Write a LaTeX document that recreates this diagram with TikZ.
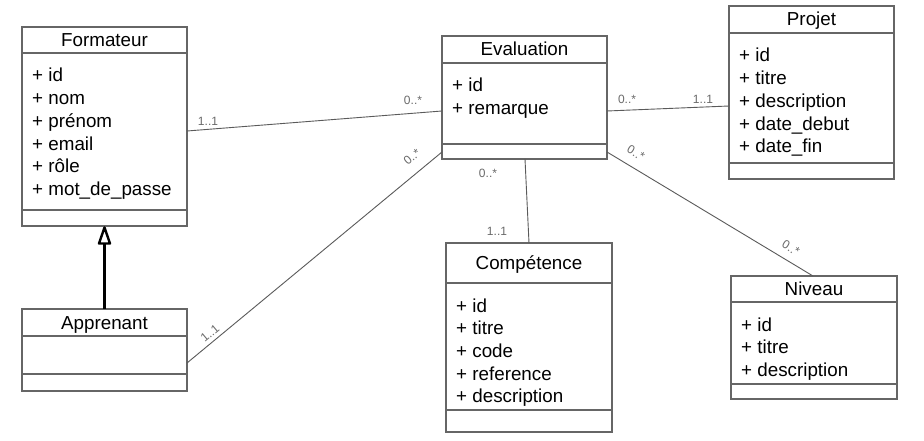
\documentclass[tikz,border=0pt]{standalone}
\usepackage{fontspec}
\setmainfont{Liberation Sans}
\usetikzlibrary{arrows.meta,calc}
\definecolor{boxgray}{HTML}{666666}
\definecolor{linegray}{HTML}{5A5A5A}
\definecolor{labgray}{HTML}{6A6A6A}
\newcommand\umlclass[8]{%
  \node[box, minimum width=#4, minimum height=#5] (#1) at (#2,#3) {};
  \draw[boxline] ($(#1.north west)+(0,#6)$) -- ($(#1.north east)+(0,#6)$);
  \draw[boxline] ($(#1.north west)+(0,#7)$) -- ($(#1.north east)+(0,#7)$);
  \node[title] at ($(#1.north)+(0,{#6/2+6.5})$) {#8};
}
\newcommand\umlattrs[3]{%
  \foreach \a [count=\i from 0] in {#3} {
    \node[attr] at ($(#1.north west)+(10,{#2+29+22.7*\i})$) {\a};
  }
}
\begin{document}
\begin{tikzpicture}[x=1pt,y=-1pt,
  box/.style={draw=boxgray, line width=1.2pt, fill=white, inner sep=0pt, outer sep=0pt, anchor=north west},
  boxline/.style={draw=boxgray, line width=1.2pt},
  title/.style={anchor=base, inner sep=0pt, font=\fontsize{18.8}{22}\selectfont},
  attr/.style={anchor=base west, inner sep=0pt, font=\fontsize{18.8}{22}\selectfont},
  assoc/.style={draw=linegray, line width=0.9pt},
  mult/.style={inner sep=0pt, text=labgray, font=\fontsize{12}{14}\selectfont},
  gen/.style={line width=3.5pt},
  genhead/.style={line width=2.4pt, fill=white, line join=round}]
\useasboundingbox (0,0) rectangle (924,441);
\fill[white] (0,0) rectangle (924,441);

% classes
\umlclass{form}{22}{27}{165}{199}{26}{183}{Formateur}
\umlattrs{form}{26}{+ id,+ nom,+ prénom,+ email,+ rôle,+ mot\_de\_passe}
\umlclass{appr}{22}{309}{165}{82}{27}{65}{Apprenant}
\umlclass{eval}{442}{36}{165}{123}{27}{108}{Evaluation}
\umlattrs{eval}{27}{+ id,+ remarque}
\umlclass{proj}{729}{6}{165}{173}{27}{157}{Projet}
\umlattrs{proj}{27}{+ id,+ titre,+ description,+ date\_debut,+ date\_fin}
\umlclass{comp}{446}{243}{166}{189}{40}{167}{Compétence}
\umlattrs{comp}{40}{+ id,+ titre,+ code,+ reference,+ description}
\umlclass{niv}{731}{276}{166}{123}{26}{108}{Niveau}
\umlattrs{niv}{26}{+ id,+ titre,+ description}

% generalization
\coordinate (genbase) at ($(form.south)+(0,17.5)$);
\draw[gen] (appr.north) -- (genbase);
\draw[genhead] ($(form.south)+(0,1.5)$) -- ($(genbase)+(-5.5,0)$) -- ($(genbase)+(5.5,0)$) -- cycle;

% associations
\draw[assoc] ($(form.north east)+(0,104)$) -- ($(eval.north west)+(0,75)$);
\draw[assoc] ($(appr.north east)+(0,54)$) -- ($(eval.north west)+(0,116)$);
\draw[assoc] ($(eval.north east)+(0,75)$) -- ($(proj.north west)+(0,100)$);
\draw[assoc] ($(eval.south west)+(83,0)$) -- ($(comp.north west)+(83,0)$);
\draw[assoc] ($(eval.north east)+(0,116)$) -- ($(niv.north west)+(82,0)$);

% multiplicities
\node[mult] (m1) at (208,121) {1..1};
\node[mult] (m2) at (413,100) {0..*};
\node[mult, rotate=40] (m3) at (210,333) {1..1};
\node[mult, rotate=40] (m4) at (412,157) {0..*};
\node[mult] (m5) at (627,99) {0..*};
\node[mult] (m6) at (703,99) {1..1};
\node[mult] (m7) at (488,173) {0..*};
\node[mult] (m8) at (497,231) {1..1};
\node[mult, rotate=-31] (m9) at (636,153) {0..*};
\node[mult, rotate=-31] (m10) at (791,248) {0..*};
\end{tikzpicture}
\end{document}
